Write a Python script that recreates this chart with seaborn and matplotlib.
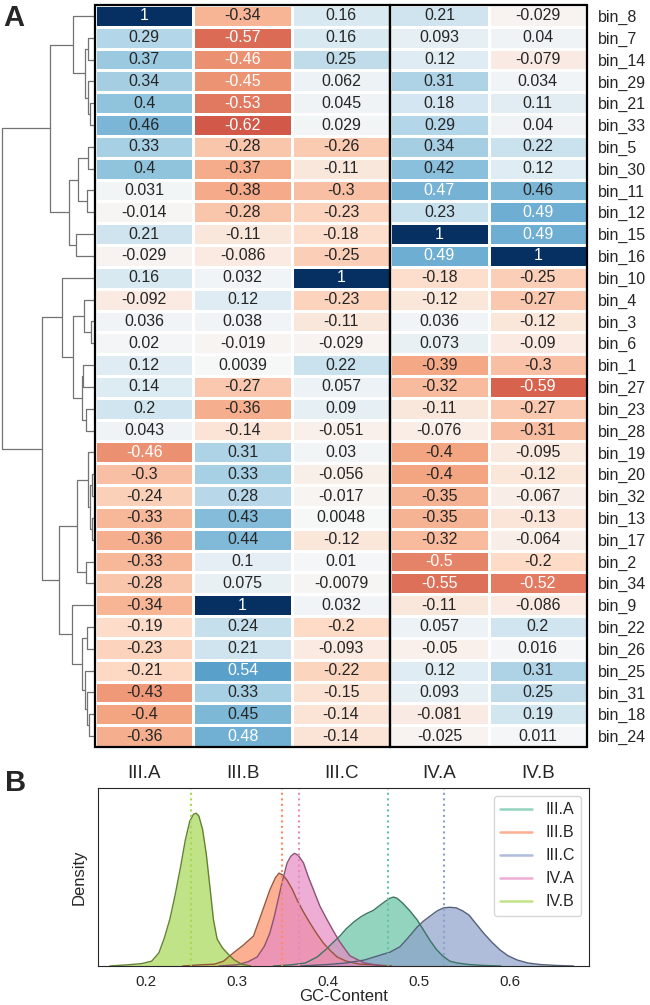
import numpy as np
import pandas as pd
import matplotlib
matplotlib.use("Agg")
import matplotlib.pyplot as plt
from matplotlib.patches import Rectangle
from matplotlib.lines import Line2D
import seaborn as sns

# --- heatmap data (rows in dendrogram order) ---
groups = ["III.A", "III.B", "III.C", "IV.A", "IV.B"]
bins = ["bin_8", "bin_7", "bin_14", "bin_29", "bin_21", "bin_33", "bin_5", "bin_30",
        "bin_11", "bin_12", "bin_15", "bin_16", "bin_10", "bin_4", "bin_3", "bin_6",
        "bin_1", "bin_27", "bin_23", "bin_28", "bin_19", "bin_20", "bin_32", "bin_13",
        "bin_17", "bin_2", "bin_34", "bin_9", "bin_22", "bin_26", "bin_25", "bin_31",
        "bin_18", "bin_24"]
corr_IIIA = [1, 0.29, 0.37, 0.34, 0.4, 0.46, 0.33, 0.4, 0.031, -0.014, 0.21, -0.029,
             0.16, -0.092, 0.036, 0.02, 0.12, 0.14, 0.2, 0.043, -0.46, -0.3, -0.24, -0.33,
             -0.36, -0.33, -0.28, -0.34, -0.19, -0.23, -0.21, -0.43, -0.4, -0.36]
corr_IIIB = [-0.34, -0.57, -0.46, -0.45, -0.53, -0.62, -0.28, -0.37, -0.38, -0.28, -0.11, -0.086,
             0.032, 0.12, 0.038, -0.019, 0.0039, -0.27, -0.36, -0.14, 0.31, 0.33, 0.28, 0.43,
             0.44, 0.1, 0.075, 1, 0.24, 0.21, 0.54, 0.33, 0.45, 0.48]
corr_IIIC = [0.16, 0.16, 0.25, 0.062, 0.045, 0.029, -0.26, -0.11, -0.3, -0.23, -0.18, -0.25,
             1, -0.23, -0.11, -0.029, 0.22, 0.057, 0.09, -0.051, 0.03, -0.056, -0.017, 0.0048,
             -0.12, 0.01, -0.0079, 0.032, -0.2, -0.093, -0.22, -0.15, -0.14, -0.14]
corr_IVA = [0.21, 0.093, 0.12, 0.31, 0.18, 0.29, 0.34, 0.42, 0.47, 0.23, 1, 0.49,
            -0.18, -0.12, 0.036, 0.073, -0.39, -0.32, -0.11, -0.076, -0.4, -0.4, -0.35, -0.35,
            -0.32, -0.5, -0.55, -0.11, 0.057, -0.05, 0.12, 0.093, -0.081, -0.025]
corr_IVB = [-0.029, 0.04, -0.079, 0.034, 0.11, 0.04, 0.22, 0.12, 0.46, 0.49, 0.49, 1,
            -0.25, -0.27, -0.12, -0.09, -0.3, -0.59, -0.27, -0.31, -0.095, -0.12, -0.067, -0.13,
            -0.064, -0.2, -0.52, -0.086, 0.2, 0.016, 0.31, 0.25, 0.19, 0.011]

# --- dendrogram merges: (child, child, height); ints point to earlier merges ---
merges = [("bin_21", "bin_33", 0.050), ("bin_29", 0, 0.067), ("bin_7", "bin_14", 0.067),
          (2, 1, 0.100), ("bin_8", 3, 0.223), ("bin_5", "bin_30", 0.067),
          ("bin_11", "bin_12", 0.077), (5, 6, 0.173), ("bin_15", "bin_16", 0.190),
          (7, 8, 0.257), (4, 9, 0.450), ("bin_3", "bin_6", 0.040), ("bin_4", 11, 0.110),
          ("bin_1", "bin_27", 0.120), ("bin_23", "bin_28", 0.090), (13, 14, 0.130),
          (12, 15, 0.220), ("bin_10", 16, 0.330), ("bin_20", "bin_32", 0.030),
          ("bin_13", "bin_17", 0.035), (18, 19, 0.050), ("bin_19", 20, 0.067),
          ("bin_2", "bin_34", 0.090), (21, 22, 0.180), ("bin_22", "bin_26", 0.080),
          ("bin_18", "bin_24", 0.060), ("bin_31", 25, 0.080), ("bin_25", 26, 0.100),
          (24, 27, 0.130), ("bin_9", 28, 0.230), (23, 29, 0.360), (17, 30, 0.530),
          (10, 31, 0.930)]

# --- GC-content density curves ---
gc_IIIA = [0.340, 0.360, 0.375, 0.388, 0.398, 0.406, 0.413, 0.420, 0.428, 0.436, 0.443, 0.450,
           0.456, 0.463, 0.468, 0.472, 0.476, 0.482, 0.490, 0.498, 0.505, 0.512, 0.519, 0.526,
           0.534, 0.542, 0.555, 0.570, 0.590]
dens_IIIA = [0, 0.2, 0.5, 1.5, 2.8, 4.0, 5.0, 6.2, 7.3, 8.2, 8.8, 9.3, 10.0, 10.8, 11.3, 11.5,
             11.3, 10.5, 9.2, 7.7, 6.0, 4.3, 2.8, 1.7, 0.8, 0.5, 0.25, 0.1, 0]
gc_IIIB = [0.240, 0.260, 0.275, 0.285, 0.296, 0.307, 0.318, 0.327, 0.336, 0.342, 0.346, 0.350,
           0.355, 0.361, 0.366, 0.373, 0.380, 0.388, 0.395, 0.403, 0.410, 0.420, 0.435, 0.450,
           0.470]
dens_IIIB = [0, 0.2, 0.3, 0.8, 2.2, 3.5, 5.0, 8.8, 12.7, 14.7, 15.5, 15.2, 14.3, 12.7, 11.0,
             9.0, 7.2, 5.3, 3.8, 2.5, 1.5, 0.8, 0.3, 0.2, 0]
gc_IIIC = [0.370, 0.400, 0.420, 0.440, 0.455, 0.468, 0.479, 0.488, 0.498, 0.505, 0.512, 0.520,
           0.527, 0.534, 0.541, 0.548, 0.555, 0.563, 0.571, 0.580, 0.589, 0.598, 0.608, 0.620,
           0.633, 0.650, 0.670]
dens_IIIC = [0, 0.25, 0.5, 1.0, 1.7, 2.3, 3.2, 4.7, 6.5, 7.5, 8.3, 9.2, 9.7, 9.8, 9.7, 9.2,
             8.5, 7.0, 5.5, 4.0, 2.7, 1.7, 1.0, 0.5, 0.25, 0.1, 0]
gc_IVA = [0.280, 0.300, 0.312, 0.322, 0.330, 0.336, 0.341, 0.345, 0.350, 0.355, 0.359, 0.363,
          0.367, 0.373, 0.378, 0.384, 0.391, 0.399, 0.406, 0.413, 0.424, 0.440, 0.460]
dens_IVA = [0, 0.2, 0.7, 1.5, 3.3, 5.5, 8.3, 11.0, 14.3, 17.2, 18.3, 18.8, 18.5, 17.2, 15.0,
            12.7, 10.0, 7.7, 5.8, 4.0, 1.7, 0.5, 0]
gc_IVB = [0.160, 0.180, 0.195, 0.206, 0.214, 0.220, 0.226, 0.232, 0.238, 0.243, 0.248, 0.252,
          0.255, 0.258, 0.262, 0.266, 0.270, 0.274, 0.278, 0.284, 0.290, 0.297, 0.305, 0.315]
dens_IVB = [0, 0.2, 0.4, 0.8, 2.2, 4.7, 7.8, 12.0, 16.7, 21.0, 24.2, 25.3, 25.5, 25.0, 22.8,
            18.8, 13.3, 7.7, 4.5, 3.0, 2.0, 1.0, 0.3, 0]
gc_means = [0.466, 0.349, 0.528, 0.368, 0.249]

# --- style ---
sns.set_style("white")
plt.rcParams["font.family"] = ["Liberation Sans", "DejaVu Sans"]

fig = plt.figure(figsize=(6.5, 10.05), dpi=100)
W, H = 650, 1005
def box(l, t, r, b):
    return [l / W, 1 - b / H, (r - l) / W, (b - t) / H]

ax_d = fig.add_axes(box(0, 5, 95, 747))
ax_h = fig.add_axes(box(95, 5, 587, 747))
ax_b = fig.add_axes(box(98, 788, 589, 966))

# --- heatmap ---
df = pd.DataFrame({"III.A": corr_IIIA, "III.B": corr_IIIB, "III.C": corr_IIIC,
                   "IV.A": corr_IVA, "IV.B": corr_IVB}, index=bins)
sns.heatmap(df, ax=ax_h, cmap="RdBu", vmin=-1, vmax=1, annot=True,
            annot_kws={"size": 11.5}, linewidths=2, linecolor="white", cbar=False)
ax_h.yaxis.tick_right()
ax_h.set_yticklabels(bins, rotation=0, fontsize=11.5)
ax_h.set_xticklabels(groups, rotation=0, fontsize=13.5)
ax_h.tick_params(axis="both", length=0)
ax_h.tick_params(axis="x", pad=13)
ax_h.tick_params(axis="y", pad=8)
n_III = sum(g.startswith("III") for g in groups)
for x0, w in [(0, n_III), (n_III, len(groups) - n_III)]:
    ax_h.add_patch(Rectangle((x0, 0), w, len(bins), fill=False, ec="black", lw=1.6,
                             clip_on=False, zorder=5))

# --- dendrogram ---
pos = {b: i + 0.5 for i, b in enumerate(bins)}
node_y, node_h = {}, {}
def child(c):
    if isinstance(c, int):
        return node_y[c], node_h[c]
    return pos[c], 0.0
for k, (a, b, h) in enumerate(merges):
    ya, ha = child(a)
    yb, hb = child(b)
    ax_d.plot([ha, h, h, hb], [ya, ya, yb, yb], color="0.45", lw=0.9)
    node_y[k] = (ya + yb) / 2
    node_h[k] = h
ax_d.set_ylim(len(bins), 0)
ax_d.set_xlim(merges[-1][2] * 95 / 93, 0)
ax_d.axis("off")

# --- GC-content densities ---
curves = {"III.A": (gc_IIIA, dens_IIIA), "III.B": (gc_IIIB, dens_IIIB),
          "III.C": (gc_IIIC, dens_IIIC), "IV.A": (gc_IVA, dens_IVA), "IV.B": (gc_IVB, dens_IVB)}
kde = pd.concat([pd.DataFrame({"gc": x, "density": d, "group": g})
                 for g, (x, d) in curves.items()], ignore_index=True)
pal = sns.color_palette("Set2", len(groups))
palette = dict(zip(groups, pal))
dark = {g: tuple(np.array(c) * 0.6) for g, c in palette.items()}

for g in groups:
    sub = kde[kde["group"] == g]
    ax_b.fill_between(sub["gc"], sub["density"], color=palette[g], alpha=0.7, lw=0)
sns.lineplot(data=kde, x="gc", y="density", hue="group", palette=dark, lw=1,
             ax=ax_b, legend=False, estimator=None)
for g, m in zip(groups, gc_means):
    ax_b.axvline(m, color=palette[g], ls=":", lw=1.5)

ax_b.set_xlim(0.147, 0.687)
ax_b.set_ylim(0, 29.7)
ax_b.set_yticks([])
ax_b.set_xticks([0.2, 0.3, 0.4, 0.5, 0.6])
ax_b.set_xticklabels(["0.2", "0.3", "0.4", "0.5", "0.6"], fontsize=11)
ax_b.tick_params(axis="x", pad=3)
ax_b.set_xlabel("GC-Content", fontsize=12, labelpad=0)
ax_b.set_ylabel("Density", fontsize=12, labelpad=8)
handles = [Line2D([0], [0], color=palette[g], alpha=0.7, lw=1.8) for g in groups]
ax_b.legend(handles, groups, loc="upper right", fontsize=11.5, frameon=True,
            edgecolor="0.8", fancybox=True)

fig.text(3 / W, 1 - 26 / H, "A", fontsize=21, fontweight="bold", va="baseline")
fig.text(5 / W, 1 - 791 / H, "B", fontsize=21, fontweight="bold", va="baseline")

fig.savefig("out.png", dpi=100)
